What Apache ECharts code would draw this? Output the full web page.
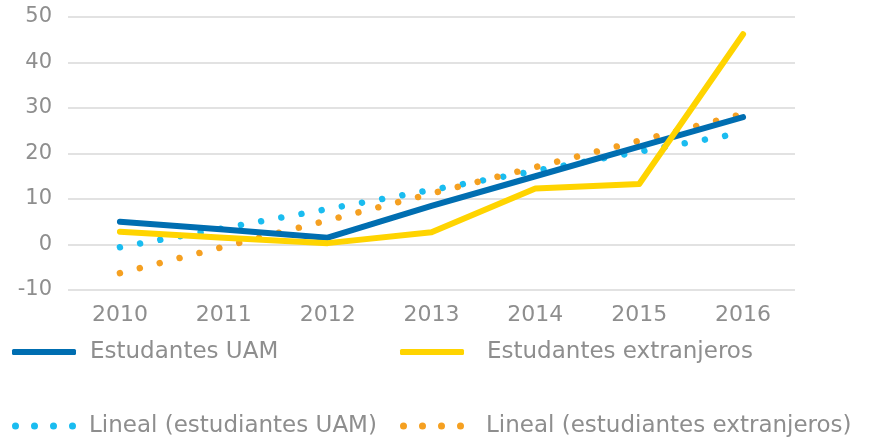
<!DOCTYPE html>
<html><head><meta charset="utf-8">
<script src="https://cdn.jsdelivr.net/npm/echarts@6/dist/echarts.min.js"></script>
<style>html,body{margin:0;padding:0;background:#fff}#c{width:871px;height:442px}</style>
</head><body><div id="c"></div>
<script>
const years = ['2010','2011','2012','2013','2014','2015','2016'];
const uam = [5.0, 3.3, 1.5, 8.5, 15.0, 21.5, 28.0];
const extranjeros = [2.8, 1.5, 0.3, 2.7, 12.3, 13.3, 46.2];
const trendUam = [-0.6, 3.6, 7.8, 12.0, 16.2, 20.4, 24.6];
const trendExt = [-6.3, -0.5, 5.3, 11.2, 17.0, 22.8, 28.7];
const names = ['Estudantes UAM','Estudantes extranjeros','Lineal (estudiantes UAM)','Lineal (estudiantes extranjeros)'];

const FONT = 'DejaVu Sans';
const GRAY = '#8e8e8e';
const dots = 'path://M0,3.5a3.5,3.5 0 1,0 7,0a3.5,3.5 0 1,0 -7,0M19,3.5a3.5,3.5 0 1,0 7,0a3.5,3.5 0 1,0 -7,0M38,3.5a3.5,3.5 0 1,0 7,0a3.5,3.5 0 1,0 -7,0M57,3.5a3.5,3.5 0 1,0 7,0a3.5,3.5 0 1,0 -7,0';
const leg = (name, left, top, icon, color, h, gap) => ({
  data:[{name, icon, itemStyle:{color}}], left, top, itemWidth:64, itemHeight:h, itemGap:0,
  textStyle:{color:GRAY, fontFamily:FONT, fontSize:23, lineHeight:26, padding:[0,0,0,gap]}, selectedMode:false
});
const chart = echarts.init(document.getElementById('c'));
chart.setOption({
  animation:false,
  grid:{left:68, right:76, top:17, bottom:152},
  legend:[
    leg(names[0], 7, 334, 'roundRect', '#006EB1', 6, 9),
    leg(names[1], 395, 334, 'roundRect', '#FFD400', 6, 18),
    leg(names[2], 7, 408, dots, '#1ABCF0', 7, 8),
    leg(names[3], 395, 408, dots, '#F5A021', 7, 17)
  ],
  xAxis:{type:'category', data:years, boundaryGap:true,
    axisLine:{show:false}, axisTick:{show:false},
    axisLabel:{color:GRAY, fontFamily:FONT, fontSize:22, margin:14}},
  yAxis:{type:'value', min:-10, max:50, interval:10,
    axisLine:{show:false}, axisTick:{show:false},
    axisLabel:{color:GRAY, fontFamily:FONT, fontSize:21, margin:16},
    splitLine:{lineStyle:{color:'#d9d9d9', width:1.5}}},
  series:[
    {name:names[2], type:'line', data:trendUam, symbol:'none', z:2,
      lineStyle:{color:'#1ABCF0', width:6.5, type:[0.01,20.5], cap:'round'}, itemStyle:{color:'#1ABCF0'}},
    {name:names[3], type:'line', data:trendExt, symbol:'none', z:2,
      lineStyle:{color:'#F5A021', width:6.5, type:[0.01,20.5], cap:'round'}, itemStyle:{color:'#F5A021'}},
    {name:names[0], type:'line', data:uam, symbol:'none', z:3,
      lineStyle:{color:'#006EB1', width:6, cap:'round', join:'round'}, itemStyle:{color:'#006EB1'}},
    {name:names[1], type:'line', data:extranjeros, symbol:'none', z:4,
      lineStyle:{color:'#FFD400', width:6, cap:'round', join:'round'}, itemStyle:{color:'#FFD400'}}
  ]
});
</script></body></html>
